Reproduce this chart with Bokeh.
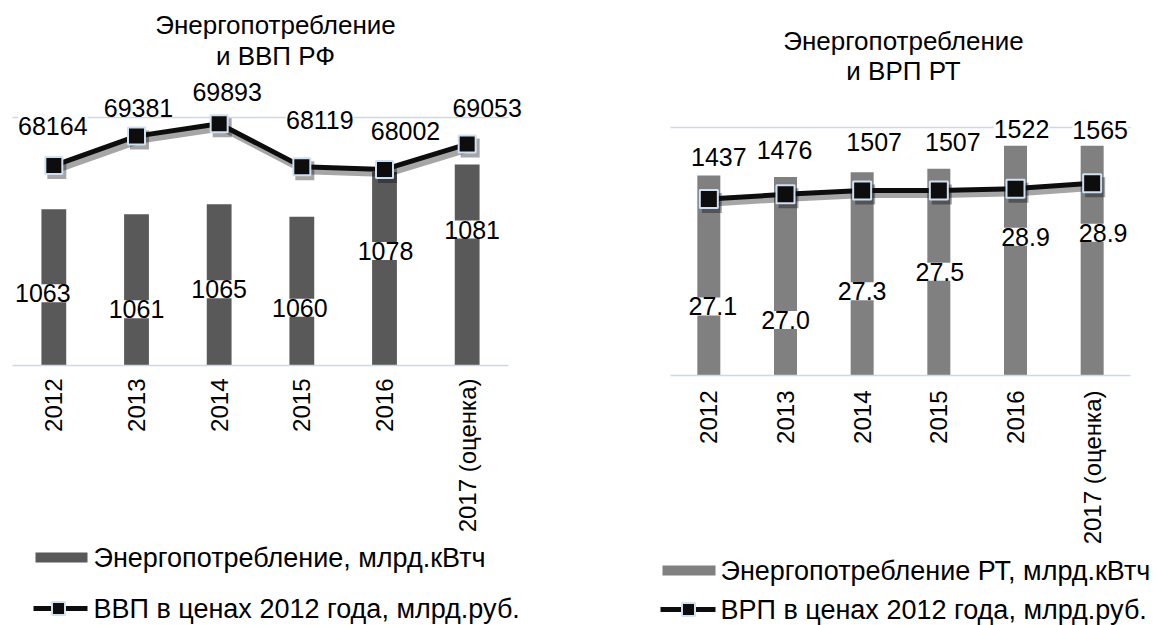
import math
from bokeh.plotting import figure
from bokeh.models import (ColumnDataSource, Range1d, LinearAxis, FixedTicker,
                          LabelSet, Label, BoxAnnotation)
from bokeh.core.properties import value
from bokeh.layouts import row
from bokeh.embed import file_html
from bokeh.resources import INLINE

# ---------------- data ----------------
years = ["2012", "2013", "2014", "2015", "2016", "2017 (оценка)"]

rf_energy = [1063, 1061, 1065, 1060, 1078, 1081]          # млрд.кВтч
rf_gdp = [68164, 69381, 69893, 68119, 68002, 69053]       # млрд.руб.

rt_energy = [27.1, 27.0, 27.3, 27.5, 28.9, 28.9]          # млрд.кВтч
rt_grp = [1437, 1476, 1507, 1507, 1522, 1565]             # млрд.руб.

rf_title = ["Энергопотребление", "и ВВП РФ"]
rt_title = ["Энергопотребление", "и ВРП РТ"]
rf_legend = ["Энергопотребление, млрд.кВтч", "ВВП в ценах 2012 года, млрд.руб."]
rt_legend = ["Энергопотребление РТ, млрд.кВтч", "ВРП в ценах 2012 года, млрд.руб."]

# ---------------- style: pixel offsets of data labels (screen px, +down) ----------------
rf_bar_lbl_dx = [-11, 0, 0, -2, 1, 5]
rf_bar_lbl_dy = [84, 95, 85, 91, 79, 65]
rf_line_lbl_dx = [-1, 2, 8, 18, 21, 20]
rf_line_lbl_dy = [-40, -28, -32, -47, -38, -36]

rt_bar_lbl_dx = [4, 0, 0, 1, 10, 11]
rt_bar_lbl_dy = [131, 143, 119, 103, 91, 87]
rt_line_lbl_dx = [10, -1, 12, 14, 6, 8]
rt_line_lbl_dy = [-42, -44, -48, -48, -60, -53]

FONT = "Liberation Sans"
GRID = "#c9daf0"
MARK_EDGE = "#cfe0f2"
LINE_C = "#0d0d0d"
H = 625


def span_range(v0, p0, v1, p1, pa, pb):
    """Range whose values v0/v1 land on pixels p0/p1, for a canvas from pixel pa to pb."""
    k = (v1 - v0) / (p1 - p0)
    return Range1d(v0 + (pa - p0) * k, v0 + (pb - p0) * k)


def make_chart(cfg):
    ox, W = cfg["ox"], cfg["width"]
    fl, fr, ft, fb = cfg["plot"]             # plot-area edges on the page
    n = len(years)
    idx = list(range(n))
    b0, b1 = cfg["bar_range"]
    l0, l1 = cfg["line_range"]

    p = figure(width=W, height=H,
               x_range=span_range(-0.5, fl, n - 0.5, fr, ox, ox + W),
               y_range=span_range(b0, fb, b1, ft, H, 0),
               output_backend="svg", toolbar_location=None,
               x_axis_location=None, y_axis_location=None,
               min_border=0, min_border_left=0, min_border_right=0,
               min_border_top=0, min_border_bottom=0,
               outline_line_color=None,
               background_fill_color="white", border_fill_color="white")
    p.xgrid.visible = False
    p.ygrid.visible = False
    p.extra_y_ranges = {"line": span_range(l0, fb, l1, ft, H, 0)}
    # shadow ranges (shift 3 px right / 4 px down)
    p.extra_x_ranges = {"sh": span_range(-0.5, fl + 3, n - 0.5, fr + 3, ox, ox + W)}
    p.extra_y_ranges["sh"] = span_range(l0, fb + 4, l1, ft + 4, H, 0)

    # category axis at the bar baseline
    ax = LinearAxis(fixed_location=b0, bounds=(-0.5, n - 0.5),
                    ticker=FixedTicker(ticks=idx),
                    major_label_overrides={i: y for i, y in zip(idx, years)})
    ax.major_label_orientation = math.pi / 2
    ax.major_label_text_font = FONT
    ax.major_label_text_font_size = "24px"
    ax.major_label_text_color = "black"
    ax.axis_line_color = GRID
    ax.axis_line_width = 1.5
    ax.major_tick_line_color = None
    ax.minor_tick_line_color = None
    ax.major_label_standoff = cfg["standoff"]
    p.add_layout(ax, "below")

    bars, line = cfg["bars"], cfg["line"]
    src = ColumnDataSource(dict(
        x=idx, bar=bars, line=line,
        bar_txt=[cfg["bar_fmt"](v) for v in bars],
        line_txt=[str(v) for v in line],
        bdx=cfg["bdx"], bdy=[-d for d in cfg["bdy"]],
        ldx=cfg["ldx"], ldy=[-d for d in cfg["ldy"]],
    ))

    # top gridline (value-axis maximum)
    p.segment(x0=[-0.5], x1=[n - 0.5], y0=[b1], y1=[b1], line_color=GRID, line_width=1.5)

    p.vbar(x="x", top="bar", bottom=b0, width=0.3, source=src,
           fill_color=cfg["bar_color"], line_color=None)

    # soft shadow of the line series
    p.line(x="x", y="line", source=src, x_range_name="sh", y_range_name="sh",
           line_color="black", line_alpha=0.35, line_width=7, line_join="round")
    p.scatter(x="x", y="line", source=src, x_range_name="sh", y_range_name="sh",
              marker="square", size=cfg["msize"] + 2, fill_color="black", fill_alpha=0.35,
              line_color=None)
    p.line(x="x", y="line", source=src, y_range_name="line",
           line_color=LINE_C, line_width=5, line_join="round")
    p.scatter(x="x", y="line", source=src, y_range_name="line", marker="square",
              size=cfg["msize"], fill_color=LINE_C, line_color=MARK_EDGE, line_width=2)

    lbl_kw = dict(text_align="center", text_baseline="middle", text_font=value(FONT),
                  text_font_size="25px", text_color="black",
                  background_fill_color="white", background_fill_alpha=1.0)
    if "padding" in LabelSet.properties():
        lbl_kw["padding"] = 4
    p.add_layout(LabelSet(x="x", y="bar", text="bar_txt", x_offset="bdx", y_offset="bdy",
                          source=src, **lbl_kw))
    p.add_layout(LabelSet(x="x", y="line", text="line_txt", x_offset="ldx", y_offset="ldy",
                          source=src, y_range_name="line", **lbl_kw))

    # page px -> screen units of this plot (from its bottom-left corner)
    def sx(X):
        return X - ox

    def sy(Y):
        return H - Y

    tx = cfg["title_x"]
    for txt, mid in zip(cfg["title"], cfg["title_mid"]):
        p.add_layout(Label(x=sx(tx), y=sy(mid), x_units="screen", y_units="screen",
                           text=txt, text_align="center", text_baseline="middle",
                           text_font=FONT, text_font_size="26px", text_color="black"))

    box_units = dict(left_units="screen", right_units="screen",
                     top_units="screen", bottom_units="screen")
    r0, r1, t0, t1 = cfg["leg_rect"]
    p.add_layout(BoxAnnotation(left=sx(r0), right=sx(r1), top=sy(t0), bottom=sy(t1),
                               fill_color=cfg["bar_color"], fill_alpha=1.0, line_color=None,
                               **box_units))
    a0, a1, ay, mx = cfg["leg_line"]
    p.add_layout(BoxAnnotation(left=sx(a0), right=sx(a1), top=sy(ay - 2.5), bottom=sy(ay + 2.5),
                               fill_color=LINE_C, fill_alpha=1.0, line_color=None,
                               **box_units))
    p.add_layout(BoxAnnotation(left=sx(mx - 6.5), right=sx(mx + 6.5),
                               top=sy(ay - 6.5), bottom=sy(ay + 6.5),
                               fill_color=LINE_C, fill_alpha=1.0,
                               line_color=MARK_EDGE, line_alpha=1.0, line_width=2,
                               **box_units))
    for txt, (X, Y) in zip(cfg["legend"], cfg["leg_text"]):
        p.add_layout(Label(x=sx(X), y=sy(Y), x_units="screen", y_units="screen",
                           text=txt, text_align="left", text_baseline="middle",
                           text_font=FONT, text_font_size="27px", text_color="black"))
    return p


left = make_chart(dict(
    ox=0, width=633, plot=(12, 508, 117, 365),
    bar_range=(1000, 1100), line_range=(59900, 70150), standoff=7,
    bars=rf_energy, line=rf_gdp, bar_fmt=lambda v: f"{v:d}",
    bdx=rf_bar_lbl_dx, bdy=rf_bar_lbl_dy, ldx=rf_line_lbl_dx, ldy=rf_line_lbl_dy,
    bar_color="#595959", msize=17,
    title=rf_title, title_x=275, title_mid=(24, 55),
    legend=rf_legend, leg_rect=(35, 87, 552, 562), leg_line=(33, 87, 608, 58),
    leg_text=[(93, 557), (93, 608)],
))

right = make_chart(dict(
    ox=633, width=520, plot=(670, 1130, 127, 375),
    bar_range=(15, 30), line_range=(0, 2020), standoff=9,
    bars=rt_energy, line=rt_grp, bar_fmt=lambda v: f"{v:.1f}",
    bdx=rt_bar_lbl_dx, bdy=rt_bar_lbl_dy, ldx=rt_line_lbl_dx, ldy=rt_line_lbl_dy,
    bar_color="#808080", msize=18,
    title=rt_title, title_x=903, title_mid=(40, 70),
    legend=rt_legend, leg_rect=(662, 715, 565, 575), leg_line=(660, 715, 609, 688),
    leg_text=[(720, 570), (720, 609)],
))

layout = row(left, right)
open("out.html", "w").write(file_html(layout, INLINE))
